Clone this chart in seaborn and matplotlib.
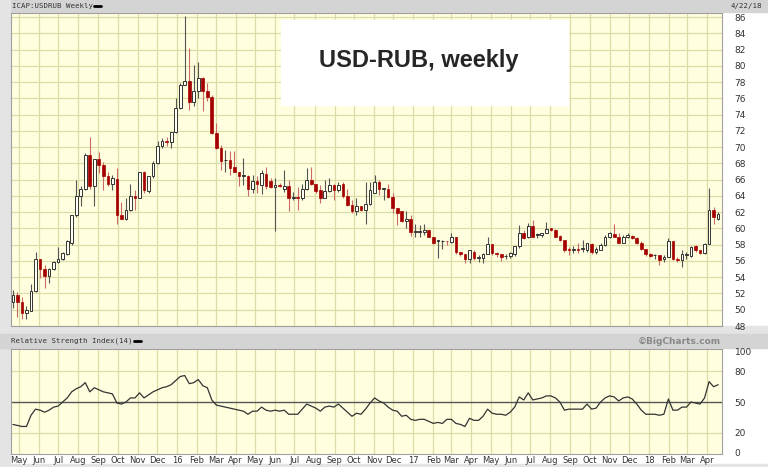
import numpy as np
import pandas as pd
import matplotlib
matplotlib.use('Agg')
import matplotlib.pyplot as plt
import matplotlib.dates as mdates
from matplotlib.patches import Rectangle
import seaborn as sns

# weekly OHLC
opens = [50.9, 51.8, 51.0, 49.6, 49.9, 52.3, 56.2, 55.0, 54.1, 55.0,
         55.9, 56.3, 56.9, 58.2, 61.6, 64.0, 64.8, 69.0, 65.2, 68.5,
         67.8, 66.4, 65.5, 66.1, 61.7, 61.2, 62.3, 64.0, 63.8, 66.9,
         64.6, 66.4, 68.1, 70.2, 70.7, 70.6, 71.9, 74.8, 77.7, 78.1,
         75.6, 76.9, 78.5, 76.9, 76.2, 71.8, 69.9, 68.4, 68.4, 67.5,
         67.0, 66.5, 66.5, 64.8, 65.8, 65.4, 66.7, 65.8, 65.1, 65.4,
         64.8, 65.2, 63.8, 63.9, 63.7, 64.8, 66.0, 65.5, 64.7, 63.8,
         64.6, 65.3, 64.7, 65.5, 64.0, 62.9, 62.1, 62.7, 62.3, 63.0,
         64.4, 65.7, 64.9, 64.9, 63.9, 62.5, 62.1, 60.9, 61.2, 59.6,
         59.6, 59.6, 59.8, 59.0, 58.5, 58.4, 58.5, 58.3, 59.0, 57.1,
         56.8, 56.2, 57.1, 56.4, 56.4, 56.8, 58.1, 57.0, 56.8, 56.6,
         56.6, 56.8, 57.8, 59.4, 58.9, 60.3, 59.2, 59.2, 59.5, 60.0,
         59.8, 59.1, 58.6, 57.5, 57.3, 57.5, 57.5, 57.4, 58.1, 57.1,
         57.4, 58.0, 59.0, 59.3, 59.0, 58.2, 58.9, 59.1, 58.8, 58.2,
         57.5, 56.9, 56.7, 56.7, 56.2, 56.5, 58.4, 56.3, 56.1, 56.7,
         56.6, 57.8, 57.3, 57.0, 58.1, 62.3, 61.2]
highs = [52.4, 52.2, 51.6, 50.4, 53.2, 57.1, 56.3, 55.5, 55.1, 56.0,
         57.7, 57.1, 58.6, 61.7, 65.9, 65.2, 69.3, 71.3, 68.6, 69.4,
         68.2, 67.0, 66.6, 67.4, 63.3, 63.7, 65.5, 64.7, 67.0, 67.1,
         66.5, 68.3, 70.7, 71.1, 71.3, 71.9, 76.0, 77.9, 86.1, 82.2,
         80.1, 80.5, 78.6, 77.9, 76.4, 73.0, 70.3, 69.7, 69.5, 69.5,
         67.0, 68.7, 66.6, 66.6, 66.4, 67.2, 67.6, 66.2, 66.2, 65.6,
         67.2, 66.0, 64.5, 65.1, 65.5, 67.4, 67.6, 65.5, 65.3, 65.9,
         66.2, 65.5, 65.7, 65.7, 64.9, 63.5, 63.7, 62.7, 65.7, 65.7,
         66.6, 65.9, 64.9, 65.5, 64.3, 62.5, 62.1, 62.1, 61.6, 60.5,
         60.4, 60.6, 59.8, 59.0, 58.6, 58.6, 58.5, 59.5, 59.0, 57.1,
         56.9, 57.3, 57.3, 56.7, 57.0, 59.0, 58.1, 57.1, 56.8, 56.9,
         57.1, 57.9, 60.4, 59.8, 60.7, 61.0, 59.4, 59.5, 60.8, 60.1,
         59.9, 59.2, 58.6, 57.7, 57.9, 58.2, 58.6, 58.2, 58.2, 57.7,
         58.2, 59.2, 59.6, 60.5, 59.5, 59.2, 59.4, 59.2, 58.9, 58.4,
         57.5, 57.0, 56.9, 56.7, 56.7, 58.8, 58.4, 56.5, 57.4, 57.1,
         57.9, 58.0, 57.4, 58.2, 65.0, 62.6, 62.0]
lows = [50.2, 49.1, 48.8, 48.9, 49.8, 52.2, 53.9, 52.7, 53.3, 54.9,
        55.8, 56.1, 56.7, 58.0, 61.4, 62.7, 64.7, 64.8, 62.7, 66.8,
        64.7, 65.2, 64.7, 60.6, 61.1, 61.0, 62.2, 62.3, 63.7, 64.3,
        64.3, 66.2, 67.9, 69.9, 70.1, 69.9, 71.8, 74.7, 77.6, 74.6,
        75.1, 76.0, 74.4, 75.7, 71.6, 69.8, 67.2, 67.0, 66.6, 66.9,
        65.2, 65.4, 64.0, 64.4, 64.3, 64.2, 64.8, 65.0, 59.7, 65.1,
        64.5, 62.1, 63.5, 62.3, 63.5, 64.7, 65.3, 64.3, 63.1, 63.7,
        64.5, 63.5, 64.5, 63.7, 62.7, 61.9, 61.6, 62.1, 60.6, 62.9,
        64.3, 64.1, 63.5, 63.7, 61.9, 60.4, 60.8, 60.0, 59.1, 59.0,
        59.0, 59.2, 58.9, 58.1, 56.4, 57.5, 58.0, 58.2, 56.9, 56.6,
        55.8, 55.8, 56.1, 55.9, 55.7, 56.8, 56.7, 56.5, 56.0, 56.3,
        56.4, 56.6, 57.6, 58.7, 58.8, 58.9, 58.8, 59.0, 59.4, 59.7,
        58.9, 58.4, 57.1, 56.7, 57.0, 57.0, 57.1, 57.1, 56.9, 56.9,
        57.3, 57.8, 58.8, 58.9, 58.2, 58.2, 58.8, 58.7, 58.1, 57.3,
        56.6, 56.5, 56.2, 55.5, 55.9, 56.5, 56.1, 55.9, 55.3, 56.3,
        56.5, 57.1, 56.9, 56.9, 58.1, 60.6, 61.0]
closes = [51.8, 51.0, 49.6, 50.0, 52.3, 56.2, 55.0, 54.1, 55.0, 55.9,
          56.3, 57.0, 58.4, 61.6, 64.0, 64.8, 69.0, 65.2, 68.5, 67.8,
          66.4, 65.5, 66.2, 61.7, 61.2, 62.3, 64.0, 63.8, 66.9, 64.7,
          66.4, 68.1, 70.2, 70.7, 70.6, 71.9, 74.8, 77.7, 78.1, 75.6,
          76.9, 78.5, 76.9, 76.2, 71.7, 69.9, 68.3, 68.4, 67.4, 66.9,
          66.4, 66.5, 64.8, 65.8, 65.5, 66.8, 65.2, 65.1, 65.4, 65.2,
          65.2, 63.7, 63.8, 63.7, 64.8, 65.9, 65.5, 64.6, 63.8, 64.6,
          65.3, 64.7, 65.4, 64.0, 62.9, 62.1, 62.7, 62.3, 63.0, 64.7,
          65.7, 64.9, 64.9, 63.9, 62.5, 61.9, 60.9, 61.2, 59.6, 59.6,
          59.6, 59.8, 59.0, 58.2, 58.5, 58.5, 58.4, 59.0, 57.1, 56.8,
          56.2, 57.3, 56.4, 56.4, 56.8, 58.1, 57.0, 56.8, 56.5, 56.6,
          57.0, 57.8, 59.4, 58.8, 60.3, 59.0, 59.2, 59.5, 59.9, 59.8,
          59.0, 58.6, 57.3, 57.3, 57.5, 57.4, 57.5, 58.2, 57.1, 57.5,
          58.0, 59.0, 59.4, 58.9, 58.2, 59.0, 59.2, 58.8, 58.2, 57.5,
          56.9, 56.6, 56.7, 56.1, 56.5, 58.4, 56.2, 56.1, 56.8, 56.9,
          57.7, 57.3, 57.0, 58.1, 62.3, 61.4, 61.8]
rsi = [28, 27, 26, 26, 37, 43, 42, 40, 42, 45,
       46, 50, 54, 60, 63, 65, 69, 60, 64, 62,
       60, 59, 58, 49, 48, 50, 54, 54, 59, 54,
       57, 60, 62, 64, 65, 67, 71, 75, 76, 68,
       69, 72, 66, 64, 52, 47, 46, 45, 44, 43,
       42, 41, 38, 41, 41, 45, 42, 41, 42, 41,
       42, 38, 38, 38, 43, 48, 46, 44, 41, 45,
       46, 45, 48, 44, 40, 36, 39, 38, 43, 49,
       54, 51, 49, 45, 42, 41, 36, 37, 33, 32,
       33, 33, 31, 29, 30, 29, 33, 33, 29, 28,
       26, 34, 32, 32, 36, 43, 39, 38, 38, 37,
       40, 45, 55, 52, 59, 52, 53, 54, 56, 56,
       54, 50, 42, 43, 43, 43, 43, 48, 43, 44,
       50, 54, 56, 55, 51, 54, 55, 53, 48, 42,
       38, 38, 38, 37, 38, 53, 42, 42, 45, 45,
       50, 49, 48, 54, 70, 65, 67]

price_ticks = list(range(48, 87, 2))
rsi_ticks = [0, 20, 50, 80, 100]

weeks = pd.date_range('2015-04-22', periods=len(closes), freq='7D')
df = pd.DataFrame({'date': weeks, 'open': opens, 'high': highs,
                   'low': lows, 'close': closes, 'rsi': rsi})
months = pd.date_range('2015-05-01', '2018-04-01', freq='MS')
month_labels = [m.strftime('%y') if m.month == 1 else m.strftime('%b') for m in months]

W, H = 768, 467
BG = '#ffffe0'
GRID = '#dcdca6'


def fx(x):
    return x / W


def fy(y):
    return 1 - y / H


sns.set_style('white')
plt.rcParams['font.family'] = ['DejaVu Sans']

fig = plt.figure(figsize=(W / 100, H / 100), dpi=100, facecolor='white')

# gray frame pieces
for (x0, y0, w, h, c) in [(0, 0, W, 12, '#d4d4d4'), (0, 0, 10, H, '#e4e4e4'),
                          (0, 326, W, 8, '#e4e4e4'), (0, 334, W, 14, '#d4d4d4'),
                          (0, 464, W, 3, '#e4e4e4')]:
    fig.add_artist(Rectangle((fx(x0), fy(y0 + h)), w / W, h / H,
                             transform=fig.transFigure, color=c, zorder=-5))

xlim = (mdates.date2num(pd.Timestamp('2015-04-19')),
        mdates.date2num(pd.Timestamp('2018-04-24')))

ax = fig.add_axes([fx(11), fy(326), 711 / W, 313 / H])
ax2 = fig.add_axes([fx(11), fy(454), 711 / W, 105 / H])

for a in (ax, ax2):
    a.set_facecolor(BG)
    a.set_xlim(xlim)
    a.set_xticks(mdates.date2num(months))
    a.grid(True, axis='x', color=GRID, linewidth=0.9)
    a.yaxis.tick_right()
    a.tick_params(length=0, labelsize=6.5, colors='#333333', pad=9)
    for s in a.spines.values():
        s.set_color('#a0a0a0')
        s.set_linewidth(0.8)
    a.set_axisbelow(True)

# price panel
ax.set_ylim(48, 86.5)
ax.set_yticks(price_ticks)
ax.grid(True, axis='y', color=GRID, linewidth=0.9)
ax.set_xticklabels([])

xs = mdates.date2num(df['date'])
up = df['close'] >= df['open']
dn = ~up
ax.vlines(xs[up], df['low'][up], df['high'][up], color='#555555', linewidth=0.8, zorder=2)
ax.vlines(xs[dn], df['low'][dn], df['high'][dn], color='#cc6a6a', linewidth=0.8, zorder=2)
body_h = np.maximum((df['close'] - df['open']).abs(), 0.06)
body_b = np.minimum(df['close'], df['open'])
ax.bar(xs[up], body_h[up], bottom=body_b[up], width=4.2, color='#fffff4',
       edgecolor='#333333', linewidth=0.7, zorder=3)
ax.bar(xs[dn], body_h[dn], bottom=body_b[dn], width=4.2, color='#a50000',
       edgecolor='#a50000', linewidth=0.5, zorder=3)

# title box
fig.add_artist(Rectangle((fx(281), fy(105)), 287 / W, 85 / H,
                         transform=fig.transFigure, color='white', zorder=10))
fig.text(fx(419), fy(61), 'USD-RUB, weekly', ha='center', va='center',
         fontsize=17, fontweight='bold', family='Liberation Sans', zorder=11)

# RSI panel
ax2.set_ylim(-1, 102)
ax2.set_yticks(rsi_ticks)
for v in (20, 80):
    ax2.axhline(v, color=GRID, linewidth=0.9, zorder=0)
ax2.axhline(50, color='#555555', linewidth=1.0, zorder=1)
sns.lineplot(data=df, x=xs, y='rsi', ax=ax2, color='#333333', linewidth=0.9, zorder=3)
ax2.set_xlabel('')
ax2.set_ylabel('')
ax2.set_xticklabels(month_labels)
ax2.tick_params(axis='x', labelsize=6, pad=1.5)
ax2.tick_params(axis='y', pad=9)

# header texts
fig.text(fx(12), fy(6), 'ICAP:USDRUB Weekly', fontsize=5.3, color='#333333',
         va='center', family='DejaVu Sans Mono')
fig.add_artist(plt.Line2D([fx(94), fx(101)], [fy(6), fy(6)], color='black',
                          linewidth=2, transform=fig.transFigure))
fig.text(fx(762), fy(6), '4/22/18', fontsize=5.3, color='#333333', ha='right',
         va='center', family='DejaVu Sans Mono')
fig.text(fx(11), fy(341), 'Relative Strength Index(14)', fontsize=5.3,
         color='#333333', va='center', family='DejaVu Sans Mono')
fig.add_artist(plt.Line2D([fx(134), fx(141)], [fy(341), fy(341)], color='black',
                          linewidth=2, transform=fig.transFigure))
fig.text(fx(721), fy(341), '\u00a9BigCharts.com', fontsize=6.5, color='#888888',
         ha='right', va='center', fontweight='bold')

fig.savefig('out.png', dpi=100, facecolor='white')
